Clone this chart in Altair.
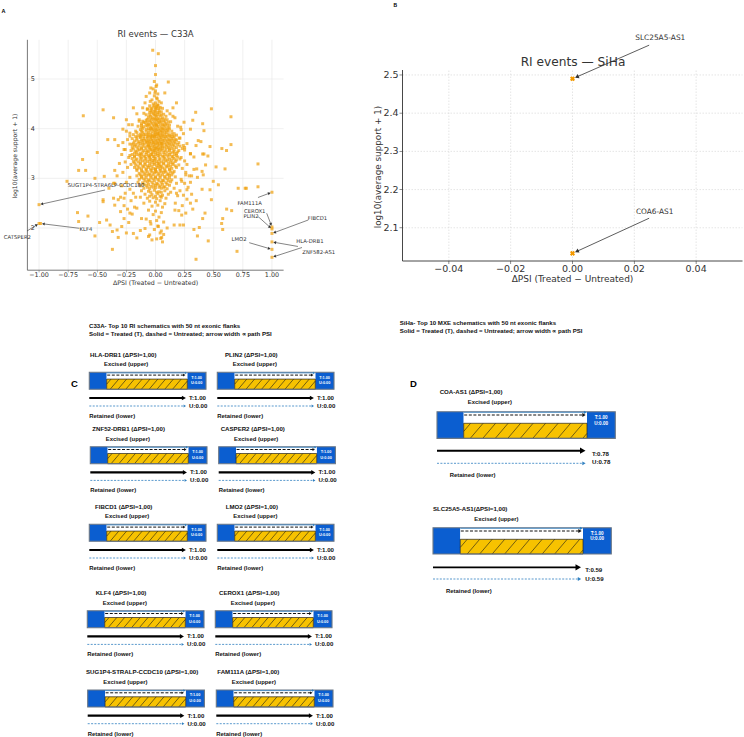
import math
import altair as alt
import pandas as pd

# ============ DATA ============
# Panel A - RI events, C33A: (dPSI, log10(average support + 1))
a_core = [
    (-0.01,4.95),(0.01,4.88),(-0.02,4.80),(0.00,4.76),(0.02,4.70),(-0.01,4.66),(0.01,4.62),(-0.03,4.58),
    (0.03,4.55),(0.00,4.52),(-0.02,4.50),(0.02,4.48),(0.005,4.85),(-0.005,4.72),(0.015,4.60),
    (-0.05,4.46),(-0.02,4.44),(0.01,4.45),(0.04,4.43),(0.06,4.41),(-0.07,4.40),(-0.03,4.39),(0.00,4.38),
    (0.03,4.37),(-0.01,4.35),(0.05,4.34),(-0.05,4.33),(0.02,4.32),(-0.02,4.30),(0.07,4.29),(-0.08,4.28),
    (0.00,4.27),(0.04,4.26),(-0.04,4.25),(0.01,4.24),(-0.06,4.23),(0.06,4.22),(-0.01,4.21),(0.03,4.20),
    (-0.03,4.22),(0.09,4.25),(-0.10,4.31),(0.10,4.36),(0.00,4.42),(-0.04,4.36),
    (-0.14,4.18),(-0.11,4.15),(-0.08,4.17),(-0.05,4.16),(-0.02,4.18),(0.01,4.17),(0.04,4.15),(0.07,4.16),
    (0.10,4.18),(0.13,4.14),(-0.12,4.10),(-0.09,4.12),(-0.06,4.09),(-0.03,4.11),(0.00,4.10),(0.03,4.12),
    (0.06,4.08),(0.09,4.10),(0.12,4.07),(-0.15,4.05),(-0.10,4.04),(-0.07,4.06),(-0.04,4.03),(-0.01,4.05),
    (0.02,4.04),(0.05,4.02),(0.08,4.05),(0.11,4.02),(-0.13,3.98),(-0.08,3.99),(-0.05,3.97),(-0.02,3.99),
    (0.01,3.98),(0.04,3.96),(0.07,3.99),(0.10,3.97),(0.14,3.95),(-0.11,3.93),(-0.06,3.92),(-0.03,3.94),
    (0.00,3.93),(0.03,3.91),(0.06,3.93),(0.09,3.92),(-0.16,3.92),(0.16,3.90),
    (-0.19,3.88),(-0.15,3.86),(-0.12,3.87),(-0.09,3.88),(-0.06,3.86),(-0.03,3.87),(0.00,3.88),(0.03,3.86),
    (0.06,3.87),(0.09,3.85),(0.12,3.86),(0.15,3.84),(0.18,3.87),
    (-0.20,3.80),(-0.16,3.81),(-0.13,3.82),(-0.10,3.80),(-0.07,3.81),(-0.04,3.83),(-0.01,3.82),(0.02,3.80),
    (0.05,3.82),(0.08,3.81),(0.11,3.79),(0.14,3.80),(0.17,3.78),(0.21,3.81),
    (-0.18,3.75),(-0.14,3.74),(-0.11,3.76),(-0.08,3.75),(-0.05,3.74),(-0.02,3.76),(0.01,3.75),(0.04,3.73),
    (0.07,3.76),(0.10,3.74),(0.13,3.75),(0.16,3.73),(0.20,3.72),
    (-0.22,3.69),(-0.17,3.68),(-0.13,3.70),(-0.10,3.69),(-0.06,3.68),(-0.03,3.70),(0.00,3.69),(0.03,3.67),
    (0.06,3.70),(0.09,3.68),(0.12,3.69),(0.15,3.67),(0.19,3.68),
    (-0.20,3.62),(-0.16,3.63),(-0.12,3.61),(-0.09,3.63),(-0.05,3.62),(-0.02,3.64),(0.01,3.62),(0.04,3.61),
    (0.08,3.63),(0.11,3.62),(0.14,3.60),(0.18,3.62),(0.23,3.60),
    (-0.21,3.56),(-0.17,3.55),(-0.14,3.57),(-0.10,3.56),(-0.07,3.55),(-0.04,3.57),(-0.01,3.56),(0.02,3.55),
    (0.05,3.57),(0.08,3.55),(0.12,3.56),(0.16,3.54),(0.20,3.56),
    (-0.18,3.51),(-0.13,3.50),(-0.08,3.52),(-0.03,3.51),(0.02,3.50),(0.07,3.52),(0.13,3.51),(0.18,3.50),
    (-0.04,3.79),(0.00,3.77),(0.04,3.78),(-0.02,3.72),(0.02,3.71),(-0.06,3.65),(0.06,3.64),(0.00,3.60),
    (-0.03,3.58),(0.03,3.59),(-0.01,3.85),(0.02,3.90),(-0.04,4.00),(0.01,4.07),(0.05,3.70),(-0.07,3.73),
    (-0.22,3.46),(-0.18,3.45),(-0.14,3.47),(-0.10,3.45),(-0.06,3.46),(-0.02,3.44),(0.02,3.46),(0.06,3.45),
    (0.10,3.47),(0.14,3.44),(0.18,3.46),
    (-0.20,3.40),(-0.16,3.39),(-0.12,3.41),(-0.08,3.40),(-0.04,3.38),(0.00,3.40),(0.04,3.39),(0.08,3.41),
    (0.12,3.38),(0.16,3.40),(0.21,3.39),
    (-0.19,3.34),(-0.15,3.33),(-0.11,3.35),(-0.07,3.34),(-0.03,3.32),(0.01,3.34),(0.05,3.33),(0.09,3.35),
    (0.13,3.32),(0.17,3.34),
    (-0.21,3.28),(-0.17,3.27),(-0.13,3.29),(-0.09,3.28),(-0.05,3.26),(-0.01,3.28),(0.03,3.27),(0.07,3.29),
    (0.11,3.26),(0.15,3.28),(0.20,3.27),
    (-0.18,3.22),(-0.14,3.21),(-0.10,3.23),(-0.06,3.22),(-0.02,3.20),(0.02,3.22),(0.06,3.21),(0.10,3.23),
    (0.14,3.20),(0.18,3.22),
    (-0.16,3.16),(-0.12,3.15),(-0.08,3.17),(-0.04,3.16),(0.00,3.14),(0.04,3.16),(0.08,3.15),(0.12,3.17),
    (0.16,3.14),
    (-0.14,3.10),(-0.09,3.11),(-0.05,3.09),(-0.01,3.11),(0.03,3.10),(0.07,3.12),(0.11,3.09),(0.15,3.11),
    (-0.02,3.36),(0.02,3.30),(-0.05,3.43),(0.04,3.24),(0.00,3.18),(-0.03,3.48),
    (-0.16,3.05),(-0.12,3.04),(-0.08,3.06),(-0.04,3.05),(0.00,3.03),(0.04,3.05),(0.08,3.04),(0.12,3.06),
    (0.17,3.03),
    (-0.14,2.98),(-0.10,2.99),(-0.06,2.97),(-0.02,2.99),(0.02,2.98),(0.06,2.96),(0.10,2.99),(0.14,2.97),
    (-0.15,2.92),(-0.11,2.91),(-0.07,2.93),(-0.03,2.92),(0.01,2.90),(0.05,2.92),(0.09,2.91),(0.13,2.93),
    (0.18,2.90),
    (-0.13,2.85),(-0.08,2.86),(-0.04,2.84),(0.00,2.86),(0.04,2.85),(0.08,2.83),(0.12,2.86),
    (-0.10,2.80),(-0.05,2.79),(0.00,2.81),(0.05,2.80),(0.10,2.79),
    (-0.12,2.75),(-0.06,2.74),(-0.01,2.76),(0.03,2.73),(0.08,2.75),(0.13,2.72),
    (-0.09,2.68),(-0.03,2.67),(0.02,2.69),(0.06,2.66),(0.11,2.68),
    (-0.13,2.62),(-0.07,2.60),(-0.02,2.61),(0.01,2.59),(0.05,2.62),(0.09,2.60),
    (-0.05,2.54),(0.00,2.52),(0.04,2.55),(-0.10,2.50),(0.08,2.49),(0.02,2.46),(-0.03,2.44),(0.06,2.42),
    (-0.06,2.36),(0.00,2.34),(0.05,2.31),(-0.02,2.27),(0.03,2.22),(-0.08,2.18),(0.01,2.15),(0.07,2.12),
    (-0.04,2.08),(0.02,2.04),(0.10,2.00),(-0.01,1.97),(0.04,1.90),(-0.05,1.86),(0.01,1.78),(0.06,1.72),
]
# extra dense rows of the central cloud: (support, [dPSI values])
a_core_rows = [
    (4.47, [-0.01, 0.02]),
    (4.41, [-0.04, 0.01, 0.03]),
    (4.33, [-0.03, 0.00, 0.03]),
    (4.28, [-0.05, -0.01, 0.02, 0.05]),
    (4.19, [-0.07, -0.04, 0.00, 0.02, 0.05, 0.08]),
    (4.13, [-0.10, -0.07, -0.04, -0.01, 0.02, 0.05, 0.08, 0.11]),
    (4.07, [-0.12, -0.08, -0.05, -0.02, 0.01, 0.04, 0.07, 0.10]),
    (4.00, [-0.11, -0.06, -0.03, 0.00, 0.03, 0.06, 0.09, 0.12]),
    (3.95, [-0.12, -0.08, -0.01, 0.02, 0.05, 0.08, 0.11]),
    (3.89, [-0.13, -0.10, -0.07, -0.04, -0.01, 0.02, 0.05, 0.08, 0.11, 0.14]),
    (3.84, [-0.17, -0.13, -0.10, -0.07, -0.04, -0.02, 0.01, 0.04, 0.07, 0.10, 0.13, 0.16]),
    (3.77, [-0.16, -0.12, -0.09, -0.06, -0.03, 0.03, 0.06, 0.09, 0.12, 0.15, 0.18]),
    (3.71, [-0.19, -0.15, -0.11, -0.08, -0.05, -0.01, 0.02, 0.05, 0.08, 0.11, 0.14, 0.17]),
    (3.65, [-0.18, -0.14, -0.11, -0.07, -0.04, -0.01, 0.02, 0.05, 0.10, 0.13, 0.16, 0.21]),
    (3.59, [-0.19, -0.15, -0.12, -0.08, -0.05, -0.01, 0.02, 0.06, 0.09, 0.12, 0.16]),
    (3.53, [-0.16, -0.11, -0.06, -0.02, 0.00, 0.04, 0.10, 0.15, 0.19]),
    (3.48, [-0.20, -0.16, -0.12, -0.08, -0.04, 0.00, 0.04, 0.08, 0.12, 0.16]),
    (3.43, [-0.18, -0.13, -0.09, -0.05, -0.01, 0.03, 0.07, 0.11, 0.15, 0.19]),
    (3.37, [-0.17, -0.13, -0.09, -0.05, -0.01, 0.03, 0.07, 0.10, 0.14, 0.18]),
    (3.31, [-0.18, -0.13, -0.09, -0.05, -0.01, 0.03, 0.07, 0.11, 0.15]),
    (3.25, [-0.15, -0.11, -0.07, -0.03, 0.01, 0.05, 0.09, 0.13, 0.17]),
    (3.19, [-0.16, -0.12, -0.08, -0.04, 0.00, 0.04, 0.08, 0.12]),
    (3.13, [-0.11, -0.07, -0.03, 0.01, 0.05, 0.09, 0.13]),
    (3.07, [-0.13, -0.10, -0.06, -0.02, 0.02, 0.06, 0.10, 0.14]),
    (3.01, [-0.12, -0.08, -0.04, 0.00, 0.04, 0.08, 0.12]),
    (2.95, [-0.09, -0.05, -0.01, 0.03, 0.07, 0.11]),
    (2.88, [-0.10, -0.06, -0.02, 0.02, 0.06, 0.10]),
    (2.82, [-0.07, -0.02, 0.03, 0.07]),
    (2.72, [-0.04, 0.01, 0.05]),
    (2.64, [-0.05, 0.00, 0.04]),
]
a_spread = [
    (0.22,3.42),(0.25,3.35),(0.27,3.28),(0.23,3.20),(0.26,3.12),(0.29,3.05),(0.22,2.98),(0.25,2.90),
    (0.28,2.82),(0.21,2.75),(0.24,2.66),(0.27,2.58),(0.30,2.50),(0.23,2.45),(0.32,2.38),(0.26,2.30),
    (0.33,3.18),(0.36,3.02),(0.31,2.68),(0.35,2.55),
    (-0.23,3.42),(-0.26,3.33),(-0.24,3.22),(-0.28,3.12),(-0.22,3.02),(-0.25,2.92),(-0.29,2.85),(-0.22,2.78),
    (-0.26,2.70),(-0.30,2.62),(-0.21,2.55),(-0.27,2.45),(-0.24,2.38),(-0.31,3.30),(-0.33,3.05),(-0.35,2.90),
    (-0.30,2.33),(-0.20,2.28),(-0.18,2.42),(-0.17,2.62),(-0.19,2.70),(0.19,2.65),(0.17,2.50),(0.20,2.35),
    (0.16,2.80),
    (-0.25,3.95),(-0.22,3.85),(0.24,3.90),(0.22,3.98),(-0.28,3.72),(0.27,3.70),(0.25,3.62),(-0.26,3.58),
    (0.30,3.50),(-0.29,3.48),(0.19,4.05),(-0.20,4.08),(0.15,4.25),(-0.16,4.30),
]
a_outliers = [
    (-0.024,5.58),(0.024,5.51),(0.00,5.27),(0.00,5.09),(-0.04,4.82),(-0.05,4.72),(-0.045,4.55),(-0.08,4.65),
    (-0.09,4.52),(-0.11,4.42),(-0.07,4.39),(-0.19,4.42),(-0.45,4.38),(-0.62,4.26),(-0.36,4.22),(-0.25,4.18),
    (-0.28,3.99),(-0.23,4.08),(-0.22,3.91),(-0.17,3.95),(-0.12,4.03),(-0.14,4.15),(-0.41,3.78),(-0.35,3.78),
    (-0.32,3.66),(-0.50,3.52),(-0.27,3.58),(-0.20,3.68),(-0.24,3.78),(-0.626,3.38),
    (0.11,4.94),(0.05,4.52),(0.08,4.72),(0.18,4.52),(0.15,4.42),(0.48,4.40),(0.345,4.33),(0.648,4.24),
    (0.32,4.17),(0.405,4.10),(0.245,4.13),(0.30,3.99),(0.416,3.96),(0.216,4.03),(0.167,4.22),(0.124,4.30),
    (0.367,3.76),(0.39,3.74),(0.468,3.64),(0.348,3.66),(0.61,3.56),(0.648,3.68),(0.416,3.49),(0.57,3.60),
    (0.204,3.81),(0.239,3.66),(0.25,3.57),
    (-0.66,3.16),(-0.60,3.16),(-0.76,2.94),(-0.52,3.00),(-0.44,3.04),(-0.35,3.16),(-0.36,2.90),(-0.40,2.80),
    (-0.45,2.57),(-0.45,2.53),(-0.36,2.60),(-0.35,2.46),(-0.32,2.57),(-0.27,2.60),(-0.67,2.31),(-0.66,2.13),
    (-0.58,2.24),(-0.52,1.84),(-0.48,2.11),(-0.42,2.16),(-0.39,2.06),(-0.37,1.93),(-0.33,1.96),(-0.32,1.81),
    (-0.29,2.03),(-0.25,1.90),(-0.27,2.19),(-0.23,2.11),(-0.19,1.89),(-0.37,1.57),(-0.22,2.30),(-0.16,2.40),
    (-0.12,2.19),(-0.13,1.95),(-0.09,1.99),(-0.045,2.13),(-0.06,1.83),(-0.16,1.80),(-0.03,1.76),(0.045,1.79),
    (0.30,3.49),(0.33,3.43),(0.405,3.49),(0.45,3.45),(0.88,3.29),(0.354,3.19),(0.40,3.14),(0.43,3.27),
    (0.52,3.23),(0.597,3.19),(0.41,3.07),(0.31,3.05),(0.30,2.92),(0.225,2.94),(0.26,3.07),(0.496,2.94),
    (0.54,2.87),(0.468,2.77),(0.48,2.57),(0.40,2.78),(0.71,2.80),(0.77,2.80),(0.78,2.80),(0.88,2.83),
    (0.27,2.77),(0.18,2.70),(0.167,2.36),(0.225,2.26),(0.21,2.06),(0.16,2.06),(0.24,2.06),(0.33,1.97),
    (0.376,2.01),(0.05,1.94),(0.053,1.81),(0.07,1.87),(0.36,1.84),(0.405,2.19),(0.425,2.30),(0.577,2.19),
    (0.568,2.09),(0.577,1.97),(0.611,2.38),(0.654,2.35),(0.453,1.74),(0.70,1.53),(0.348,1.37),(0.024,2.03),
]
a_flag_genes = ["SUGT1P4-STRA6LP-CCDC180", "KLF4", "CATSPER2", "FAM111A", "CEROX1",
                "PLIN2", "FIBCD1", "HLA-DRB1", "LMO2", "ZNF582-AS1"]
a_flag_dpsi = [-1.0, -0.987, -1.0, 1.0, 1.0, 1.0, 1.0, 1.0, 1.0, 1.0]
a_flag_support = [2.47, 2.09, 2.09, 2.72, 2.02, 1.98, 1.89, 1.72, 1.57, 1.41]

# Panel B - RI events, SiHa
b_genes = ["SLC25A5-AS1", "COA6-AS1"]
b_dpsi = [0.0, 0.0]
b_support = [2.49, 2.033]

# Panel C - C33A top RI schematics (row-major, 2 columns)
c_genes = ["HLA-DRB1", "PLIN2", "ZNF52-DRB1", "CASPER2", "FIBCD1",
           "LMO2", "KLF4", "CEROX1", "SUG1P4-STRALP-CCDC10", "FAM111A"]
c_dpsi = [1.00, 1.00, 1.00, 1.00, 1.00, 1.00, 1.00, 1.00, 1.00, 1.00]
c_t_psi = [1.00, 1.00, 1.00, 1.00, 1.00, 1.00, 1.00, 1.00, 1.00, 1.00]
c_u_psi = [0.00, 0.00, 0.00, 0.00, 0.00, 0.00, 0.00, 0.00, 0.00, 0.00]

# Panel D - SiHa schematics
d_genes = ["COA-AS1", "SLC25A5-AS1"]
d_dpsi = [1.00, 1.00]
d_t_box = [1.00, 1.00]
d_u_box = [0.00, 0.00]
d_t_path = [0.78, 0.59]
d_u_path = [0.78, 0.59]

a_xticks = [-1.0, -0.75, -0.5, -0.25, 0.0, 0.25, 0.5, 0.75, 1.0]
a_yticks = [2, 3, 4, 5]
b_xticks = [-0.04, -0.02, 0.0, 0.02, 0.04]
b_yticks = [2.1, 2.2, 2.3, 2.4, 2.5]

# ============ LAYOUT / STYLE ============
FONT = "DejaVu Sans"
BOLD = "Liberation Sans"
TXT = "#333333"
ORANGE = "#EFA00B"
XTITLE = "\u0394PSI (Treated \u2212 Untreated)"
YTITLE = "log10(average support + 1)"

XA_DOM, XA_RNG = [-1.1, 1.1], [27.4, 283.6]
YA_DOM, YA_RNG = [1.15, 5.79], [270.2, 39.8]
XB_DOM, XB_RNG = [-0.055, 0.055], [402.5, 742.5]
YB_DOM, YB_RNG = [2.013, 2.513], [261.0, 70.0]

# annotation placement: gene -> (label x, label y, arrow start x, arrow start y) in data units
a_ann = {
    "SUGT1P4-STRA6LP-CCDC180": (-0.425, 2.866, -0.433, 2.765),
    "KLF4": (-0.597, 1.974, -0.654, 1.994),
    "CATSPER2": (-1.186, 1.813, -1.103, 1.94),
    "FAM111A": (0.809, 2.509, 0.88, 2.614),
    "CEROX1": (0.852, 2.348, 0.955, 2.296),
    "PLIN2": (0.82, 2.248, 0.882, 2.228),
    "FIBCD1": (1.391, 2.207, 1.312, 2.161),
    "LMO2": (0.718, 1.772, 0.805, 1.704),
    "HLA-DRB1": (1.326, 1.744, 1.223, 1.628),
    "ZNF582-AS1": (1.402, 1.523, 1.258, 1.607),
}
b_ann = {
    "SLC25A5-AS1": (0.0284, 2.597, 0.0248, 2.578),
    "COA6-AS1": (0.0266, 2.142, 0.0248, 2.125),
}


def lin(dom, rng, v):
    return rng[0] + (v - dom[0]) / (dom[1] - dom[0]) * (rng[1] - rng[0])


def inv(dom, rng, p):
    return dom[0] + (p - rng[0]) / (rng[1] - rng[0]) * (dom[1] - dom[0])


def arrow_rows(ann, genes, px, py, xd, xr, yd, yr, gap, head_size):
    """Arrow from label to a data point; head tip `gap` px short of the point."""
    hl = math.sqrt(head_size)
    rows = []
    for g, (lx, ly, sx, sy) in ann.items():
        i = genes.index(g)
        psx, psy = lin(xd, xr, sx), lin(yd, yr, sy)
        ptx, pty = lin(xd, xr, px[i]), lin(yd, yr, py[i])
        dx, dy = ptx - psx, pty - psy
        n = math.hypot(dx, dy)
        ux, uy = dx / n, dy / n
        tipx, tipy = ptx - ux * gap, pty - uy * gap
        hcx, hcy = tipx - ux * hl * 0.5, tipy - uy * hl * 0.5
        lex, ley = tipx - ux * hl * 0.7, tipy - uy * hl * 0.7
        rows.append(dict(g=g, lx=lx, ly=ly, sx=sx, sy=sy,
                         ex=inv(xd, xr, lex), ey=inv(yd, yr, ley),
                         hx=inv(xd, xr, hcx), hy=inv(yd, yr, hcy),
                         ang=math.degrees(math.atan2(dx, -dy)) % 360))
    return pd.DataFrame(rows)


def fmt_minus(v, f):
    return format(v, f).replace("-", "\u2212")


ONE = pd.DataFrame({"o": [0]})

# ============ PANEL A ============
xa = alt.Scale(domain=XA_DOM, range=XA_RNG, nice=False, zero=False)
ya = alt.Scale(domain=YA_DOM, range=YA_RNG, nice=False, zero=False)
XA = lambda f: alt.X(f, scale=xa, axis=None)
YA = lambda f: alt.Y(f, scale=ya, axis=None)
XA0 = alt.XDatum(XA_DOM[0], type="quantitative", scale=xa, axis=None)
YA0 = alt.YDatum(YA_DOM[0], type="quantitative", scale=ya, axis=None)

pts = a_core + [(x, y) for y, xs in a_core_rows for x in xs] + a_spread + a_outliers
dfA = pd.DataFrame({
    "dpsi": [p[0] for p in pts] + a_flag_dpsi,
    "support": [p[1] for p in pts] + a_flag_support,
})
axA_x = pd.DataFrame({"v": a_xticks, "lab": [fmt_minus(v, ".2f") for v in a_xticks]})
axA_y = pd.DataFrame({"v": a_yticks, "lab": [str(v) for v in a_yticks]})

gridA_v = alt.Chart(axA_x).mark_rule(color="#e6e6e6", strokeWidth=0.6).encode(
    x=XA("v:Q"), y=YA0, y2=alt.Y2Datum(YA_DOM[1]))
gridA_h = alt.Chart(axA_y).mark_rule(color="#e6e6e6", strokeWidth=0.6).encode(
    y=YA("v:Q"), x=XA0, x2=alt.X2Datum(XA_DOM[1]))
pointsA = alt.Chart(dfA).mark_square(size=9, color=ORANGE, opacity=0.7).encode(
    x=XA("dpsi:Q"), y=YA("support:Q"))
spineA_x = alt.Chart(ONE).mark_rule(color="#555555", strokeWidth=0.8).encode(
    x=XA0, x2=alt.X2Datum(XA_DOM[1]), y=YA0)
spineA_y = alt.Chart(ONE).mark_rule(color="#555555", strokeWidth=0.8).encode(
    x=XA0, y=YA0, y2=alt.Y2Datum(YA_DOM[1]))
ticksA_x = alt.Chart(axA_x).mark_tick(orient="vertical", size=2.4, thickness=0.6, color="#555555", yOffset=1.2).encode(
    x=XA("v:Q"), y=YA0)
labA_x = alt.Chart(axA_x).mark_text(font=FONT, fontSize=6.4, color=TXT, align="center", baseline="middle", dy=5.2).encode(
    x=XA("v:Q"), y=YA0, text="lab:N")
labA_y = alt.Chart(axA_y).mark_text(font=FONT, fontSize=6.4, color=TXT, align="left", baseline="middle", dx=3.3).encode(
    x=XA0, y=YA("v:Q"), text="lab:N")
ttlA_x = alt.Chart(pd.DataFrame({"t": [XTITLE]})).mark_text(
    font=FONT, fontSize=6.3, color=TXT, align="center", baseline="middle").encode(
    x=alt.value(155.5), y=alt.value(283.3), text="t:N")
ttlA_y = alt.Chart(pd.DataFrame({"t": [YTITLE]})).mark_text(
    font=FONT, fontSize=6.1, color=TXT, align="center", baseline="middle", angle=270).encode(
    x=alt.value(15), y=alt.value(156), text="t:N")

annA = arrow_rows(a_ann, a_flag_genes, a_flag_dpsi, a_flag_support, XA_DOM, XA_RNG, YA_DOM, YA_RNG, 1.2, 10)
arrowsA = alt.Chart(annA).mark_rule(color="#333333", strokeWidth=0.6).encode(
    x=XA("sx:Q"), y=YA("sy:Q"), x2="ex:Q", y2="ey:Q")
headsA = alt.Chart(annA).mark_point(shape="triangle-up", filled=True, size=10, color="#333333", opacity=1).encode(
    x=XA("hx:Q"), y=YA("hy:Q"), angle=alt.Angle("ang:Q", scale=None))
labelsA = alt.Chart(annA).mark_text(font=FONT, fontSize=5.3, color=TXT, align="center", baseline="middle").encode(
    x=XA("lx:Q"), y=YA("ly:Q"), text="g:N")
titleA = alt.Chart(pd.DataFrame({"t": ["RI events \u2014 C33A"]})).mark_text(
    font=FONT, fontSize=8.5, color=TXT, align="center", baseline="middle").encode(
    x=alt.value(155.5), y=alt.value(34), text="t:N")
letterA = alt.Chart(pd.DataFrame({"t": ["A"]})).mark_text(
    font=BOLD, fontWeight="bold", fontSize=5.5, color="#000000", align="left", baseline="middle").encode(
    x=alt.value(1.5), y=alt.value(11), text="t:N")

panel_a = alt.layer(gridA_v, gridA_h, pointsA, spineA_x, spineA_y, ticksA_x, labA_x, labA_y,
                    ttlA_x, ttlA_y, arrowsA, headsA, labelsA, titleA, letterA)

# ============ PANEL B ============
xb = alt.Scale(domain=XB_DOM, range=XB_RNG, nice=False, zero=False)
yb = alt.Scale(domain=YB_DOM, range=YB_RNG, nice=False, zero=False)
XB = lambda f: alt.X(f, scale=xb, axis=None)
YB = lambda f: alt.Y(f, scale=yb, axis=None)
XB0 = alt.XDatum(XB_DOM[0], type="quantitative", scale=xb, axis=None)
YB0 = alt.YDatum(YB_DOM[0], type="quantitative", scale=yb, axis=None)

dfB = pd.DataFrame({"gene": b_genes, "dpsi": b_dpsi, "support": b_support})
axB_x = pd.DataFrame({"v": b_xticks, "lab": [fmt_minus(v, ".2f") for v in b_xticks]})
axB_y = pd.DataFrame({"v": b_yticks, "lab": [format(v, ".1f") for v in b_yticks]})

gridB_v = alt.Chart(axB_x).mark_rule(color="#d4d4d4", strokeWidth=0.6, strokeDash=[1.5, 1.5]).encode(
    x=XB("v:Q"), y=YB0, y2=alt.Y2Datum(YB_DOM[1]))
gridB_h = alt.Chart(axB_y).mark_rule(color="#d4d4d4", strokeWidth=0.6, strokeDash=[1.5, 1.5]).encode(
    y=YB("v:Q"), x=XB0, x2=alt.X2Datum(XB_DOM[1]))
pointsB = alt.Chart(dfB).mark_point(shape="cross", angle=45, filled=True, size=26, color="#F59A00", opacity=1).encode(
    x=XB("dpsi:Q"), y=YB("support:Q"))
spineB_x = alt.Chart(ONE).mark_rule(color="#333333", strokeWidth=0.9).encode(
    x=XB0, x2=alt.X2Datum(XB_DOM[1]), y=YB0)
spineB_y = alt.Chart(ONE).mark_rule(color="#333333", strokeWidth=0.9).encode(
    x=XB0, y=YB0, y2=alt.Y2Datum(YB_DOM[1]))
ticksB_x = alt.Chart(axB_x).mark_tick(orient="vertical", size=3, thickness=0.8, color="#333333", yOffset=1.5).encode(
    x=XB("v:Q"), y=YB0)
ticksB_y = alt.Chart(axB_y).mark_tick(orient="horizontal", size=3, thickness=0.8, color="#333333", xOffset=-1.5).encode(
    x=XB0, y=YB("v:Q"))
labB_x = alt.Chart(axB_x).mark_text(font=FONT, fontSize=9.5, color=TXT, align="center", baseline="middle", dy=8).encode(
    x=XB("v:Q"), y=YB0, text="lab:N")
labB_y = alt.Chart(axB_y).mark_text(font=FONT, fontSize=9.5, color=TXT, align="right", baseline="middle", dx=-4).encode(
    x=XB0, y=YB("v:Q"), text="lab:N")
ttlB_x = alt.Chart(pd.DataFrame({"t": [XTITLE]})).mark_text(
    font=FONT, fontSize=9, color=TXT, align="center", baseline="middle").encode(
    x=alt.value(572.5), y=alt.value(279), text="t:N")
ttlB_y = alt.Chart(pd.DataFrame({"t": [YTITLE]})).mark_text(
    font=FONT, fontSize=8.8, color=TXT, align="center", baseline="middle", angle=270).encode(
    x=alt.value(377.5), y=alt.value(167), text="t:N")

annB = arrow_rows(b_ann, b_genes, b_dpsi, b_support, XB_DOM, XB_RNG, YB_DOM, YB_RNG, 2.5, 20)
arrowsB = alt.Chart(annB).mark_rule(color="#333333", strokeWidth=0.8).encode(
    x=XB("sx:Q"), y=YB("sy:Q"), x2="ex:Q", y2="ey:Q")
headsB = alt.Chart(annB).mark_point(shape="triangle-up", filled=True, size=20, color="#333333", opacity=1).encode(
    x=XB("hx:Q"), y=YB("hy:Q"), angle=alt.Angle("ang:Q", scale=None))
labelsB = alt.Chart(annB).mark_text(font=FONT, fontSize=7.4, color=TXT, align="center", baseline="middle").encode(
    x=XB("lx:Q"), y=YB("ly:Q"), text="g:N")
titleB = alt.Chart(pd.DataFrame({"t": ["RI events \u2014 SiHa"]})).mark_text(
    font=FONT, fontSize=12.2, color=TXT, align="center", baseline="middle").encode(
    x=alt.value(573), y=alt.value(62), text="t:N")
letterB = alt.Chart(pd.DataFrame({"t": ["B"]})).mark_text(
    font=BOLD, fontWeight="bold", fontSize=5, color="#000000", align="left", baseline="middle").encode(
    x=alt.value(393.5), y=alt.value(4.5), text="t:N")

panel_b = alt.layer(gridB_v, gridB_h, spineB_x, spineB_y, ticksB_x, ticksB_y, labB_x, labB_y,
                    ttlB_x, ttlB_y, arrowsB, pointsB, headsB, labelsB, titleB, letterB)

# ============ PANELS C & D (schematics) ============
BLUE = "#0B5ED0"
YELLOW = "#F7C200"
EDGE = "#6b7785"
LBLUE = "#2F7FC0"

fills, outlines, hatch, solid, dash_k, dash_b, heads, texts = [], [], [], [], [], [], [], []


def add_text(x, y, t, size, color="#111111", align="left"):
    texts.append(dict(x=x, y=y, t=t, size=size, color=color, align=align))


def schematic(L, title, tbox, ubox, tpath, upath):
    x0, top, k = L["x0"], L["top"], L["k"]
    xl = x0 + L["le"]
    xr = xl + L["iw"]
    xe = xr + L["re"]
    bot = top + L["h"]
    ht = top + L["ws"]
    fills.append(dict(x=x0, x2=xl, y=top, y2=bot, fill=BLUE))
    fills.append(dict(x=xr, x2=xe, y=top, y2=bot, fill=BLUE))
    fills.append(dict(x=xl, x2=xr, y=top, y2=ht, fill="#ffffff"))
    fills.append(dict(x=xl, x2=xr, y=ht, y2=bot, fill=YELLOW))
    hh = bot - ht
    d = hh * 0.85
    s = xl - d + L["hsp"] * 0.55
    while s < xr:
        t0 = max(0.0, (xl - s) / d)
        t1 = min(1.0, (xr - s) / d)
        if t1 > t0:
            hatch.append(dict(x=s + d * t0, y=bot - hh * t0, x2=s + d * t1, y2=bot - hh * t1))
        s += L["hsp"]
    outlines.append(dict(x=xl, x2=xr, y=ht, y2=bot, c="#222222", w=0.7))
    outlines.append(dict(x=x0, x2=xe, y=top, y2=bot, c=EDGE, w=1.1))
    # upper (excised) path
    solid.append(dict(x=xl, x2=xr - 1.5 * k, y=top + 0.6, y2=top + 0.6, c=LBLUE, w=0.8))
    heads.append(dict(x=xr - 1.2 * k, y=top + 0.6, c=LBLUE, s=6 * k * k))
    dash_k.append(dict(x=xl + 0.5, x2=L["up_tip"] - 2 * k, y=L["up_y"], y2=L["up_y"]))
    heads.append(dict(x=L["up_tip"] - 1.5 * k, y=L["up_y"], c="#111111", s=8 * k * k))
    bx = xr + L["re"] / 2
    add_text(bx, L["box_t"], f"T:{tbox:.2f}", L["bfs"], "#ffffff", "center")
    add_text(bx, L["box_u"], f"U:{ubox:.2f}", L["bfs"], "#ffffff", "center")
    # lower (retained) paths: solid = treated, dashed = untreated; width ~ path PSI
    solid.append(dict(x=x0, x2=L["tip"] - 3.5 * k, y=L["t_y"], y2=L["t_y"], c="#000000", w=1.2 + tpath))
    heads.append(dict(x=L["tip"] - 2.4 * k, y=L["t_y"], c="#000000", s=22 * k * k))
    dash_b.append(dict(x=x0, x2=L["tip"] - 2 * k, y=L["u_y"], y2=L["u_y"]))
    heads.append(dict(x=L["tip"] - 1.5 * k, y=L["u_y"], c=LBLUE, s=8 * k * k))
    add_text(L["t_lab"][0], L["t_lab"][1], f"T:{tpath:.2f}", L["fs"])
    add_text(L["u_lab"][0], L["u_lab"][1], f"U:{upath:.2f}", L["fs"])
    add_text(L["ret"][0], L["ret"][1], "Retained (lower)", L["fs"] - 0.2)
    add_text(L["title"][0], L["title"][1], title, L["fs"])
    add_text(L["exc"][0], L["exc"][1], "Excised (upper)", L["fs"] - 0.2)


def psi_title(g, v, sep=" "):
    return f"{g}{sep}(\u0394PSI={v:.2f})".replace(".", ",")


c_cols_x = [(89.3, 217.3), (90.3, 218.7), (89.3, 217.3), (87.3, 215.3), (87.7, 216.3)]
c_tops = [372.3, 446.7, 524.3, 610.7, 690.0]
c_title_x = [(90, 225), (92.3, 220.7), (95, 225.7), (95.7, 219), (86, 217.3)]
c_exc_x = [(104, 232.7), (105.7, 234), (105, 233.3), (102.7, 230.7), (103.3, 231.7)]

for i, g in enumerate(c_genes):
    r, c = divmod(i, 2)
    x0, top = c_cols_x[r][c], c_tops[r]
    L = dict(x0=x0, top=top, le=17.4, iw=80.6, re=18.7, h=17, ws=6.8, hsp=7.8, k=1.0,
             up_y=top + 2.8, up_tip=x0 + 96.5, t_y=top + 25.7, u_y=top + 33.7, tip=x0 + 97,
             t_lab=(x0 + 99.7, top + 25.7), u_lab=(x0 + 99.7, top + 33.7), ret=(x0, top + 43.7),
             title=(c_title_x[r][c], top - 17.8), exc=(c_exc_x[r][c], top - 8.0),
             fs=6.1, bfs=3.8, box_t=top + 5.3, box_u=top + 11.0)
    schematic(L, psi_title(g, c_dpsi[i]), c_t_psi[i], c_u_psi[i], c_t_psi[i], c_u_psi[i])

d_layout = [
    dict(x0=437, top=411.7, le=26.7, iw=123.3, re=28.3, h=26.7, ws=11.6, hsp=12.5, k=1.35,
         up_y=415.0, up_tip=586.0, t_y=450.7, u_y=463.3, tip=586.0, t_lab=(592, 454.3),
         u_lab=(592, 461.7), ret=(449.7, 475), title=(439.7, 392), exc=(467.7, 402.3),
         fs=6.1, bfs=4.6, box_t=417.7, box_u=423.5, sep=" "),
    dict(x0=433, top=527.7, le=27.3, iw=122.7, re=28.3, h=26.3, ws=11.6, hsp=12.5, k=1.35,
         up_y=531.0, up_tip=582.0, t_y=567.3, u_y=579.0, tip=581.5, t_lab=(585.3, 570),
         u_lab=(585.3, 579), ret=(446, 591), title=(433, 509.3), exc=(474.3, 519),
         fs=6.1, bfs=4.6, box_t=533.5, box_u=539.3, sep=""),
]
for i, g in enumerate(d_genes):
    L = d_layout[i]
    schematic(L, psi_title(g, d_dpsi[i], L["sep"]), d_t_box[i], d_u_box[i], d_t_path[i], d_u_path[i])

add_text(89, 325.7, "C33A- Top 10 RI schematics with 50 nt exonic flanks", 6.1)
add_text(89, 333.7, "Solid = Treated (T), dashed = Untreated; arrow width \u221d  path PSI", 6.1)
add_text(399.7, 322.7, "SiHa- Top 10 MXE schematics with 50 nt exonic flanks", 6.1)
add_text(399.7, 330.6, "Solid = Treated (T), dashed = Untreated; arrow width \u221d  path PSI", 6.1)
add_text(71, 383.5, "C", 9.5, "#000000")
add_text(410, 383.5, "D", 9.5, "#000000")

xc = alt.Scale(domain=[0, 744], range=[0, 744], nice=False, zero=False)
yc = alt.Scale(domain=[0, 737], range=[0, 737], nice=False, zero=False)
X = lambda f: alt.X(f, scale=xc, axis=None)
Y = lambda f: alt.Y(f, scale=yc, axis=None)

fill_layer = alt.Chart(pd.DataFrame(fills)).mark_rect(strokeWidth=0).encode(
    x=X("x:Q"), x2="x2:Q", y=Y("y:Q"), y2="y2:Q", fill=alt.Fill("fill:N", scale=None))
hatch_layer = alt.Chart(pd.DataFrame(hatch)).mark_rule(color="#1a1a1a", strokeWidth=0.6).encode(
    x=X("x:Q"), x2="x2:Q", y=Y("y:Q"), y2="y2:Q")
outline_layer = alt.Chart(pd.DataFrame(outlines)).mark_rect(fillOpacity=0).encode(
    x=X("x:Q"), x2="x2:Q", y=Y("y:Q"), y2="y2:Q",
    stroke=alt.Stroke("c:N", scale=None), strokeWidth=alt.StrokeWidth("w:Q", scale=None))
solid_layer = alt.Chart(pd.DataFrame(solid)).mark_rule().encode(
    x=X("x:Q"), x2="x2:Q", y=Y("y:Q"), y2="y2:Q",
    color=alt.Color("c:N", scale=None), strokeWidth=alt.StrokeWidth("w:Q", scale=None))
dashk_layer = alt.Chart(pd.DataFrame(dash_k)).mark_rule(color="#111111", strokeWidth=1.0, strokeDash=[3, 1.6]).encode(
    x=X("x:Q"), x2="x2:Q", y=Y("y:Q"), y2="y2:Q")
dashb_layer = alt.Chart(pd.DataFrame(dash_b)).mark_rule(color=LBLUE, strokeWidth=0.8, strokeDash=[2, 1.4]).encode(
    x=X("x:Q"), x2="x2:Q", y=Y("y:Q"), y2="y2:Q")
head_layer = alt.Chart(pd.DataFrame(heads)).mark_point(shape="triangle-right", filled=True, opacity=1, strokeWidth=0).encode(
    x=X("x:Q"), y=Y("y:Q"), color=alt.Color("c:N", scale=None), size=alt.Size("s:Q", scale=None))
dft = pd.DataFrame(texts)
text_left = alt.Chart(dft[dft["align"] == "left"]).mark_text(
    align="left", baseline="middle", font=BOLD, fontWeight="bold").encode(
    x=X("x:Q"), y=Y("y:Q"), text="t:N", size=alt.Size("size:Q", scale=None), color=alt.Color("color:N", scale=None))
text_center = alt.Chart(dft[dft["align"] == "center"]).mark_text(
    align="center", baseline="middle", font=BOLD, fontWeight="bold").encode(
    x=X("x:Q"), y=Y("y:Q"), text="t:N", size=alt.Size("size:Q", scale=None), color=alt.Color("color:N", scale=None))

panel_cd = alt.layer(fill_layer, hatch_layer, outline_layer, solid_layer, dashk_layer, dashb_layer,
                     head_layer, text_left, text_center)

chart = alt.layer(panel_a, panel_b, panel_cd).resolve_scale(
    x="independent", y="independent"
).properties(
    width=744, height=737, padding=0, background="white",
    autosize=alt.AutoSizeParams(type="none"),
).configure_view(stroke="transparent")

chart.save("out.html", embed_options={"renderer": "svg", "actions": False})
